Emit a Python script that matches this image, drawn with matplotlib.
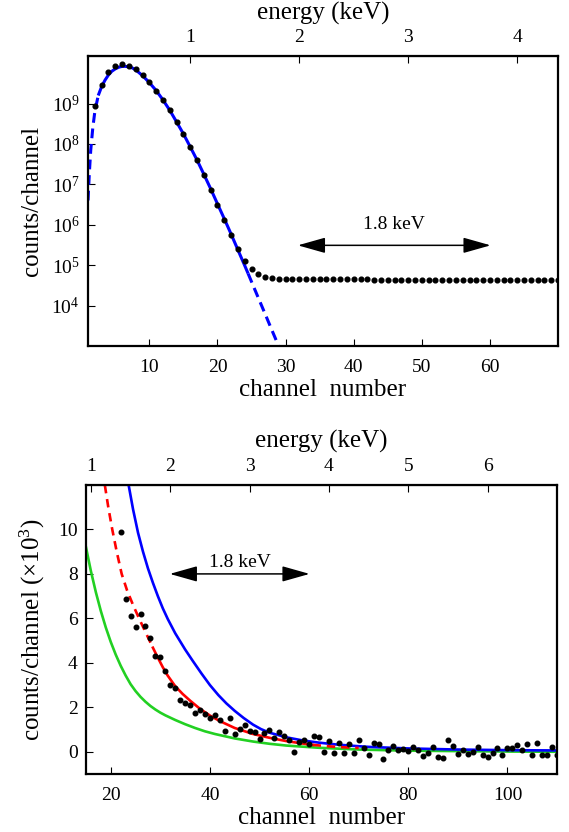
import matplotlib
matplotlib.use("Agg")
import matplotlib.pyplot as plt
from matplotlib.ticker import FixedLocator, NullLocator, LogFormatterSciNotation

plt.rcParams['font.family'] = ['Liberation Serif', 'DejaVu Serif']
plt.rcParams['mathtext.fontset'] = 'custom'
plt.rcParams['mathtext.rm'] = 'Liberation Serif'
plt.rcParams['mathtext.it'] = 'Liberation Serif:italic'

CH_PER_KEV = 16.0

# ---- top panel: full spectrum (log scale) ----
top_ch = list(range(2, 71))
top_counts = [
    8.5e8, 2.95e9, 6.0e9, 8.5e9, 9.3e9, 8.7e9, 7.1e9, 5.0e9, 3.4e9,
    2.1e9, 1.23e9, 6.8e8, 3.5e8, 1.74e8, 8.3e7, 4.0e7, 1.74e7, 7.4e6,
    3.0e6, 1.29e6, 5.6e5, 2.5e5, 1.29e5, 7.9e4, 6.0e4, 5.1e4, 4.8e4,
    4.60e4, 4.58e4, 4.56e4, 4.55e4, 4.53e4, 4.52e4, 4.50e4, 4.49e4, 4.48e4,
    4.47e4, 4.46e4, 4.45e4, 4.44e4, 4.43e4, 4.42e4, 4.42e4, 4.41e4, 4.40e4,
    4.39e4, 4.38e4, 4.38e4, 4.37e4, 4.36e4, 4.35e4, 4.35e4, 4.34e4, 4.33e4,
    4.33e4, 4.32e4, 4.31e4, 4.31e4, 4.30e4, 4.29e4, 4.29e4, 4.28e4, 4.27e4,
    4.27e4, 4.26e4, 4.25e4, 4.25e4, 4.24e4, 4.24e4,
]

# fitted peak shape; solid inside the fit window, dashed outside it
fit_ch = [1.0, 1.2, 1.4, 1.7, 2.0, 2.5, 3.0, 3.5, 4.0, 4.5, 5.0, 5.5, 6.0,
          6.5, 7.0, 7.5, 8.0, 9.0, 10, 11, 12, 13, 14, 15, 16, 17, 18, 19,
          20, 21, 22, 23, 24, 24.5, 25, 26, 27, 28, 29]
fit_counts = [4.0e6, 2.0e7, 7.1e7, 2.5e8, 6.3e8, 1.58e9, 2.63e9, 3.8e9,
              5.1e9, 6.3e9, 7.2e9, 7.9e9, 8.3e9, 8.3e9, 8.1e9, 7.6e9, 6.8e9,
              4.9e9, 3.3e9, 2.1e9, 1.23e9, 6.8e8, 3.5e8, 1.78e8, 8.5e7,
              4.0e7, 1.78e7, 7.8e6, 3.3e6, 1.41e6, 5.9e5, 2.4e5, 9.8e4,
              6.2e4, 3.9e4, 1.55e4, 6.2e3, 2.45e3, 9.8e2]
fit_window = (2.5, 24.5)

# ---- bottom panel: tail region (linear, x10^3) ----
bot_ch = list(range(22, 111))
bot_counts = [
    9.87, 6.85, 6.12, 5.63, 6.19, 5.67, 5.13, 4.33, 4.28,          # 22-30
    3.64, 2.99, 2.87, 2.34, 2.19, 2.12, 1.75, 1.90, 1.70, 1.52,    # 31-40
    1.67, 1.45, 0.93, 1.52, 0.78, 1.03, 1.19, 0.93, 0.90, 0.58,    # 41-50
    0.85, 1.00, 0.63, 0.88, 0.73, 0.55, 0.00, 0.43, 0.52, 0.37,    # 51-60
    0.73, 0.67, 0.00, 0.48, -0.04, 0.40, -0.04, 0.37, -0.04, 0.52, # 61-70
    0.18, -0.16, 0.40, 0.37, -0.31, 0.07, 0.25, 0.10, 0.13, 0.03,  # 71-80
    0.22, 0.10, -0.19, -0.04, 0.21, -0.22, -0.30, 0.51, 0.25, -0.09,  # 81-90
    0.10, -0.09, 0.00, 0.21, -0.16, -0.22, -0.04, 0.15, -0.15, 0.18,  # 91-100
    0.15, 0.30, 0.06, 0.36, -0.15, 0.40, -0.15, -0.15, 0.21, -0.15,   # 101-110
]

red_ch = [18.8, 19.5, 20.3, 21.2, 22.2, 23.3, 24.5, 25.5, 26.5, 27.5, 28.5,
          29.5, 30.5, 31.5, 33.0, 34.5, 36.0, 38.0, 40.0, 42.0, 45.0, 48.7,
          52.0, 55.4, 58.7, 60.7, 65.4, 70.0]
red_val = [12.0, 11.0, 10.0, 9.0, 8.0, 7.25, 6.6, 6.1, 5.62, 5.15, 4.68,
           4.23, 3.8, 3.42, 2.95, 2.6, 2.3, 1.93, 1.63, 1.38, 1.07, 0.8,
           0.63, 0.48, 0.37, 0.31, 0.22, 0.17]
red_solid = (28.5, 60.7)

blue_ch = [23.6, 24.5, 25.5, 26.5, 27.5, 28.5, 29.5, 30.5, 31.5, 33.0, 35.0,
           36.5, 38.3, 40.0, 41.7, 43.3, 45.0, 46.8, 48.7, 50.3, 52.0, 55.4,
           58.7, 62.0, 65.4, 68.7, 72.0, 80.0, 90.0, 101.0, 110.0]
blue_val = [12.0, 10.9, 9.85, 9.0, 8.25, 7.6, 7.0, 6.45, 5.97, 5.33, 4.6,
            4.1, 3.52, 3.0, 2.55, 2.18, 1.84, 1.52, 1.22, 1.02, 0.86, 0.65,
            0.51, 0.41, 0.33, 0.27, 0.22, 0.15, 0.10, 0.07, 0.06]

green_ch = [15.0, 16.0, 17.0, 18.0, 19.0, 20.0, 21.0, 22.0, 23.0, 24.0, 25.0,
            26.0, 27.0, 28.0, 29.0, 30.0, 31.0, 33.0, 35.0, 37.0, 39.0, 41.0,
            45.0, 48.7, 52.0, 55.4, 62.0, 70.0, 80.0, 90.0, 100.0, 110.0]
green_val = [9.2, 8.12, 7.17, 6.33, 5.59, 4.94, 4.37, 3.87, 3.43, 3.04, 2.73,
             2.47, 2.25, 2.06, 1.9, 1.76, 1.64, 1.43, 1.24, 1.07, 0.92, 0.80,
             0.60, 0.46, 0.36, 0.28, 0.18, 0.10, 0.05, 0.03, 0.01, 0.0]


def split_segments(xs, ys, lo, hi):
    """Return (inside, below, above) pieces of a curve around [lo, hi]."""
    inside = [(x, y) for x, y in zip(xs, ys) if lo <= x <= hi]
    below = [(x, y) for x, y in zip(xs, ys) if x <= lo]
    above = [(x, y) for x, y in zip(xs, ys) if x >= hi]
    return [list(zip(*p)) for p in (inside, below, above)]


def style_axes(ax):
    for s in ax.spines.values():
        s.set_linewidth(1.6)
    ax.tick_params(direction='in', length=5, width=0.8, labelsize=14,
                   top=False, right=False, pad=6)
    ax.tick_params(axis='x', pad=9)


def energy_axis(ax, ticks, labelpad):
    sec = ax.secondary_xaxis('top', functions=(lambda c: c / CH_PER_KEV,
                                               lambda e: e * CH_PER_KEV))
    sec.set_xticks(ticks)
    sec.tick_params(direction='in', length=5, width=0.8, labelsize=14, pad=7)
    sec.set_xlabel('energy (keV)', fontsize=18, labelpad=labelpad)
    return sec


def double_arrow(ax, x0, x1, y, text, ytext):
    ax.annotate('', xy=(x1, y), xytext=(x0, y),
                arrowprops=dict(arrowstyle='<|-|>,head_length=0.85,head_width=0.24',
                                color='black', lw=1.1, mutation_scale=20,
                                shrinkA=0, shrinkB=0))
    ax.text((x0 + x1) / 2, ytext, text, ha='center', va='center', fontsize=14)


fig = plt.figure(figsize=(5.69, 8.32), dpi=100)

# top panel
ax1 = fig.add_axes([0.1547, 0.5841, 0.8261, 0.3486])
ax1.set_yscale('log')
inside, below, above = split_segments(fit_ch, fit_counts, *fit_window)
ax1.plot(inside[0], inside[1], color='#0000ff', lw=2.2, solid_capstyle='butt')
for seg in (below, above):
    ax1.plot(seg[0], seg[1], color='#0000ff', lw=2.2, dashes=(3.2, 1.9))
ax1.plot(top_ch, top_counts, 'o', color='black', ms=3.4, zorder=5)
ax1.set_xlim(1, 70)
ax1.set_ylim(1e3, 1.5e10)
ax1.yaxis.set_major_locator(FixedLocator([1e4, 1e5, 1e6, 1e7, 1e8, 1e9]))
ax1.yaxis.set_major_formatter(LogFormatterSciNotation())
ax1.yaxis.set_minor_locator(NullLocator())
ax1.set_xticks([10, 20, 30, 40, 50, 60])
style_axes(ax1)
ax1.set_xlabel('channel  number', fontsize=18, labelpad=2.5)
ax1.set_ylabel('counts/channel', fontsize=18, labelpad=6)
energy_axis(ax1, [1, 2, 3, 4], 7)
double_arrow(ax1, 31.8, 60.1, 3.1e5, '1.8 keV', 1.0e6)

# bottom panel
ax2 = fig.add_axes([0.1511, 0.0697, 0.8278, 0.3474])
ax2.plot(green_ch, green_val, color='#22d022', lw=1.9)
ax2.plot(blue_ch, blue_val, color='#0000ff', lw=1.9)
inside, below, above = split_segments(red_ch, red_val, *red_solid)
ax2.plot(inside[0], inside[1], color='#ff0000', lw=1.9)
for seg in (below, above):
    ax2.plot(seg[0], seg[1], color='#ff0000', lw=1.9, dashes=(3.2, 2.2))
ax2.plot(bot_ch, bot_counts, 'o', color='black', ms=3.3, zorder=5)
ax2.set_xlim(15, 110)
ax2.set_ylim(-1, 12)
ax2.set_xticks([20, 40, 60, 80, 100])
ax2.set_yticks([0, 2, 4, 6, 8, 10])
style_axes(ax2)
ax2.set_xlabel('channel  number', fontsize=18, labelpad=2.5)
ax2.set_ylabel(r'counts/channel ($\times$10$^3$)', fontsize=18, labelpad=8)
energy_axis(ax2, [1, 2, 3, 4, 5, 6], 8)
double_arrow(ax2, 31.9, 60.1, 8.0, '1.8 keV', 8.5)

fig.savefig('out.png', dpi=100)
